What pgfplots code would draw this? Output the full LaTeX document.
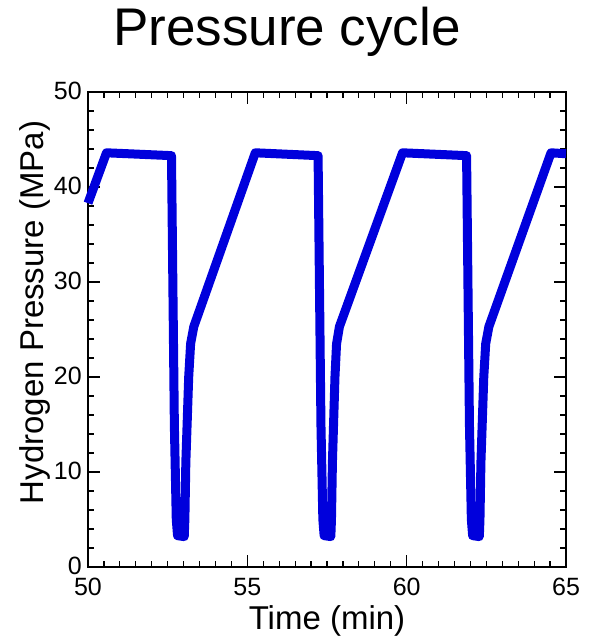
\documentclass[border=0pt]{standalone}
\usepackage{fontspec}
\setmainfont{Liberation Sans}
\usepackage{pgfplots}
\pgfplotsset{compat=1.18}

\definecolor{lineblue}{RGB}{0,0,220}

\begin{document}
\begin{tikzpicture}
\begin{axis}[
    name=ax,
    scale only axis,
    width=478pt, height=475pt,
    xmin=50, xmax=65, ymin=0, ymax=50,
    xtick={50,55,60,65}, ytick={0,10,...,50},
    minor x tick num=9, minor y tick num=4,
    tick align=inside, tick pos=both,
    major tick length=12pt, minor tick length=6pt,
    every tick/.append style={black, line width=1.2pt},
    axis line style={line width=1.5pt},
    /pgf/number format/assume math mode=true,
    ticklabel style={font=\fontsize{25}{30}\selectfont, inner sep=0pt},
    xticklabel style={yshift=-11pt},
    yticklabel style={xshift=-6pt, yshift=1pt},
    label style={font=\fontsize{33}{40}\selectfont},
    xlabel={Time (min)},
    ylabel={Hydrogen Pressure (MPa)},
    xlabel style={at={(axis description cs:0.5,-0.1326)}, anchor=base},
    ylabel style={at={(axis description cs:-0.0941,0.536)}, anchor=base},
    title={Pressure cycle},
    title style={font=\fontsize{53}{64}\selectfont, at={(axis description cs:0.4163,1)}, anchor=base, yshift=40pt},
    clip=false,
]
\addplot[lineblue, line width=9pt, line join=round] coordinates {
    (50.00,38.3) (50.58,43.6) (52.62,43.3)
    (52.71,15.0) (52.77,5.0) (52.81,3.3) (53.02,3.2) (53.04,5.0)
    (53.07,11.0) (53.16,20.0) (53.22,23.5) (53.32,25.3)
    (55.25,43.6) (57.22,43.3)
    (57.31,15.0) (57.37,5.0) (57.41,3.3) (57.62,3.2) (57.64,5.0)
    (57.67,11.0) (57.75,20.0) (57.80,23.5) (57.89,25.3)
    (59.87,43.6) (61.88,43.3)
    (61.97,15.0) (62.03,5.0) (62.07,3.3) (62.28,3.2) (62.30,5.0)
    (62.33,11.0) (62.42,20.0) (62.48,23.5) (62.58,25.3)
    (64.53,43.6) (65.00,43.5)
};
\end{axis}
\pgfresetboundingbox
\path ([shift={(-88pt,-70pt)}]ax.south west) rectangle ([shift={(26pt,92pt)}]ax.north east);
\end{tikzpicture}
\end{document}
